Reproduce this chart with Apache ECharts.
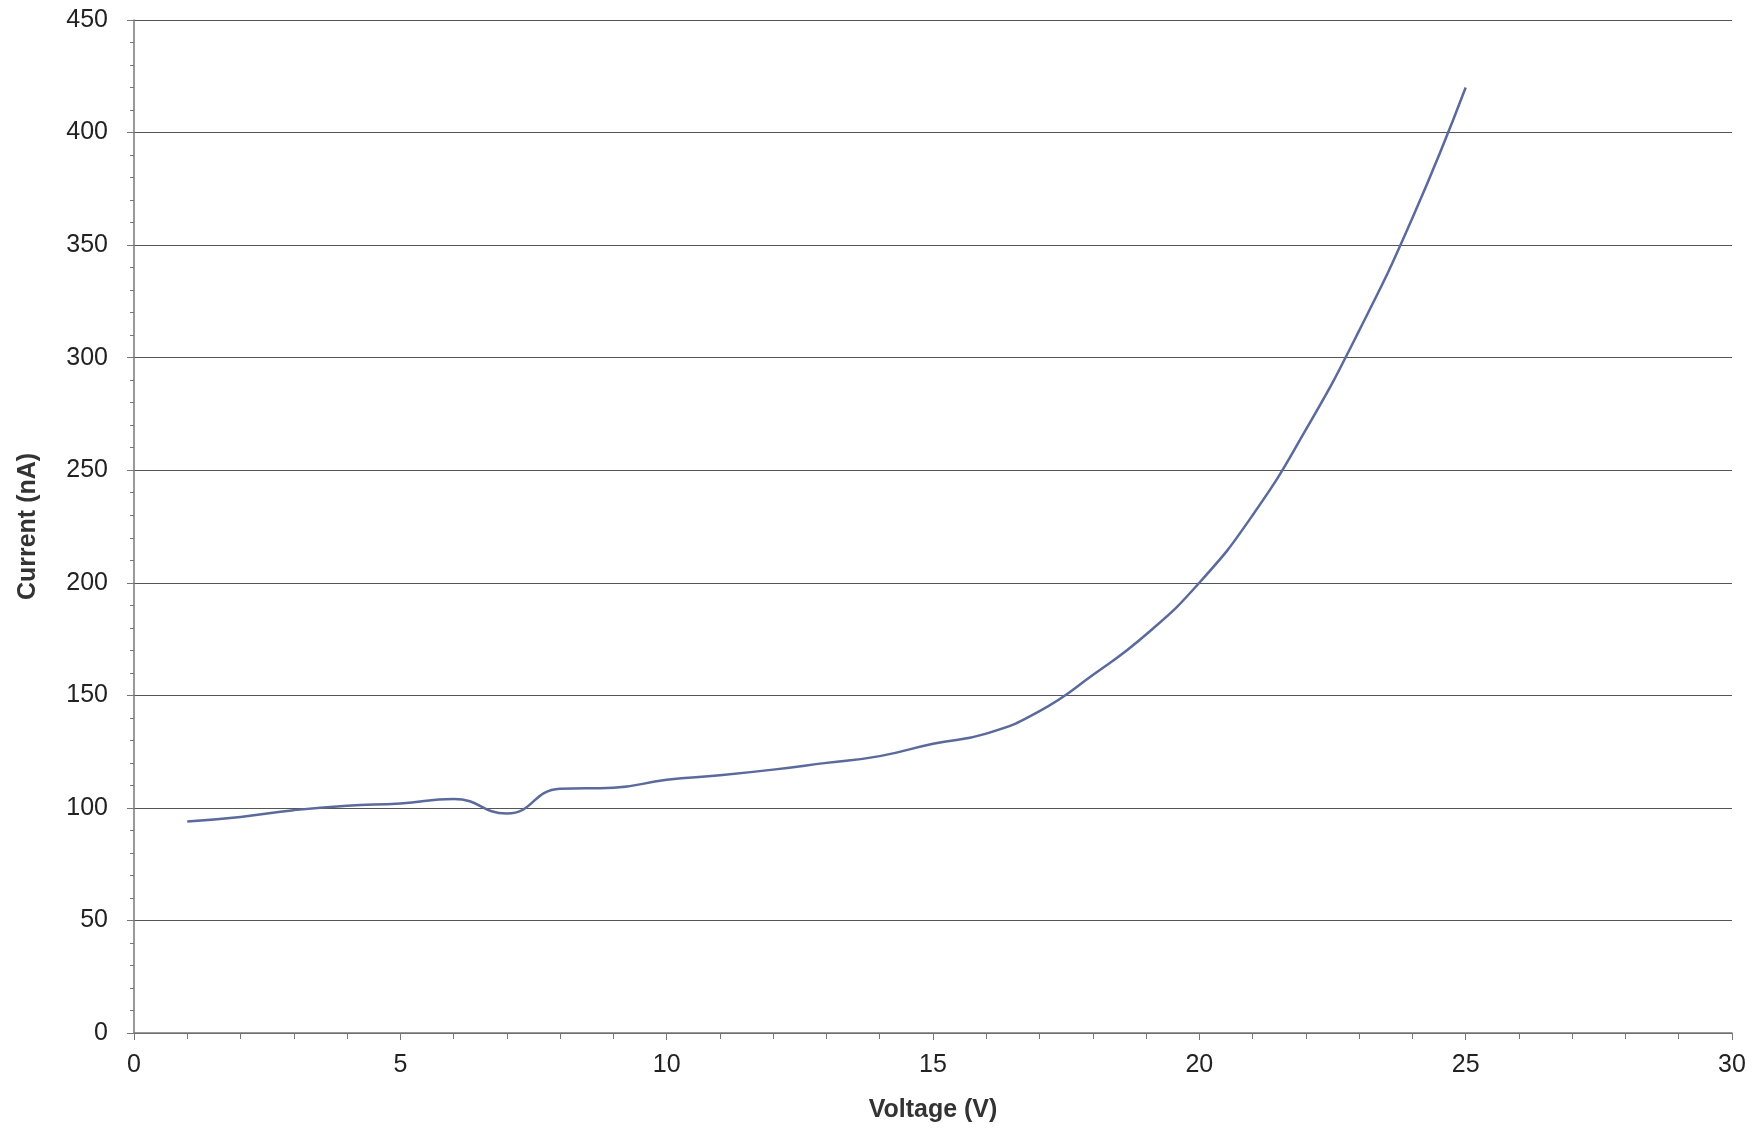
<!DOCTYPE html>
<html>
<head>
<meta charset="utf-8">
<script src="https://cdn.jsdelivr.net/npm/echarts@6/dist/echarts.min.js"></script>
<style>
html,body{margin:0;padding:0;background:#fff;}
#chart{width:1757px;height:1131px;}
</style>
</head>
<body>
<div id="chart"></div>
<script>
const voltage = [1,2,3,4,5,6,7,8,9,10,11,12,13,14,15,16,17,18,19,20,21,22,23,24,25];
const current = [94,96,99,101,102,104,97.5,108.5,109,112.5,114.5,117,120,123,128.5,133,143,159,177,200,230,268,312,362,420];
const xTitle = 'Voltage (V)';
const yTitle = 'Current (nA)';

const chart = echarts.init(document.getElementById('chart'));
chart.setOption({
  backgroundColor: '#ffffff',
  animation: false,
  grid: {left: 134, right: 25, top: 20, bottom: 98},
  xAxis: {
    type: 'value', min: 0, max: 30, interval: 5,
    name: xTitle, nameLocation: 'middle', nameGap: 65,
    nameTextStyle: {fontFamily: 'Liberation Sans', fontSize: 25, fontWeight: 'bold', color: '#333'},
    axisLine: {show: true, lineStyle: {color: '#777', width: 1.5}},
    axisTick: {show: true, inside: false, length: 7, lineStyle: {color: '#777'}},
    minorTick: {show: true, splitNumber: 5, length: 6, lineStyle: {color: '#777'}},
    splitLine: {show: false},
    axisLabel: {fontFamily: 'Liberation Sans', fontSize: 25, color: '#222', margin: 20}
  },
  yAxis: {
    type: 'value', min: 0, max: 450, interval: 50,
    name: yTitle, nameLocation: 'middle', nameGap: 93, nameRotate: 90,
    nameTextStyle: {fontFamily: 'Liberation Sans', fontSize: 25, fontWeight: 'bold', color: '#333'},
    axisLine: {show: true, lineStyle: {color: '#777', width: 1.5}},
    axisTick: {show: true, inside: false, length: 7, lineStyle: {color: '#777'}},
    minorTick: {show: true, splitNumber: 5, length: 4, lineStyle: {color: '#777'}},
    splitLine: {show: true, lineStyle: {color: '#555', width: 1.2}},
    axisLabel: {fontFamily: 'Liberation Sans', fontSize: 25, color: '#222', margin: 26}
  },
  series: [{
    type: 'line',
    data: voltage.map((v, i) => [v, current[i]]),
    smooth: 0.5,
    showSymbol: false,
    lineStyle: {color: '#5a6a9c', width: 2.5}
  }]
});
</script>
</body>
</html>
